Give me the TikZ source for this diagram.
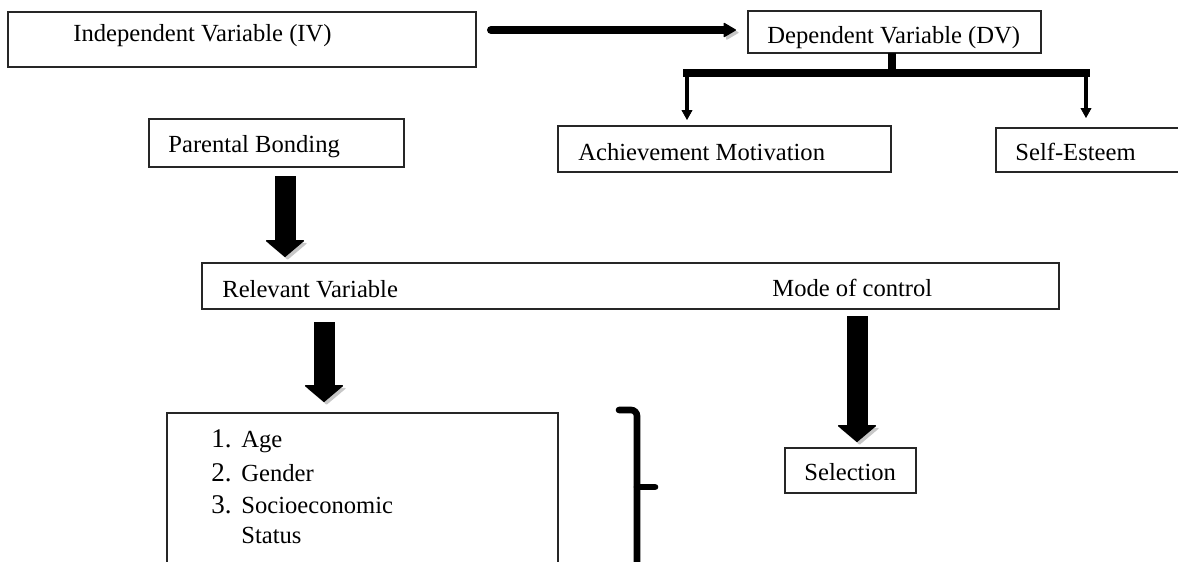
\documentclass[tikz,border=0pt]{standalone}
\usepackage{fontspec}
\setmainfont{Liberation Serif}
\usetikzlibrary{arrows.meta}
\begin{document}
\begin{tikzpicture}[x=0.5pt,y=-0.5pt,
  box/.style={draw=black!85, line width=0.6pt, anchor=north west, inner sep=0pt, outer sep=0pt},
  lbl/.style={anchor=base west, inner sep=0pt, font=\fontsize{12.3}{14}\selectfont},
  num/.style={anchor=base east, inner sep=0pt, font=\fontsize{13.5}{15}\selectfont},
  shadowed/.style={preaction={draw=black!22, transform canvas={shift={(1.3pt,-1.3pt)}}}},
  bigarrow/.style={line width=10.5pt, shadowed, -{Triangle[width=20pt,length=8.5pt,line width=0.6pt,round]}},
  medarrow/.style={line width=4pt, line cap=round, shadowed, -{Triangle[width=7.5pt,length=6.5pt,line width=0.6pt,round]}},
  thinarrow/.style={line width=1.8pt, -{Triangle[width=5.5pt,length=5pt,line width=0.4pt]}},
  stemline/.style={line width=4.2pt},
  barline/.style={line width=3.7pt, line cap=rect},
  bracketline/.style={line width=3.3pt, line cap=round, rounded corners=3pt}
]
\useasboundingbox (0,0) rectangle (1178,562);
\clip (0,0) rectangle (1178,562);

% boxes
\node[box, minimum width=234pt,   minimum height=27.5pt] (iv)  at (8,12)    {};
\node[box, minimum width=146.5pt, minimum height=21pt]   (dv)  at (748,11)  {};
\node[box, minimum width=127.5pt, minimum height=24pt]   (pb)  at (149,119) {};
\node[box, minimum width=166.5pt, minimum height=23pt]   (am)  at (558,126) {};
\node[box, minimum width=97pt,    minimum height=22pt]   (se)  at (996,128) {};
\node[box, minimum width=428.5pt, minimum height=23pt]   (rel) at (202,263) {};
\node[box, minimum width=65.5pt,  minimum height=22.5pt] (sel) at (785,448) {};
\node[box, minimum width=195.5pt, minimum height=83.5pt] (lst) at (167,413) {};

% texts
\node[lbl] (tiv)   at (73,41)   {Independent Variable (IV)};
\node[lbl] (tdv)   at (767,43)  {Dependent Variable (DV)};
\node[lbl] (tpb)   at (168,152) {Parental Bonding};
\node[lbl] (tam)   at (578,160) {Achievement Motivation};
\node[lbl] (tse)   at (1015,160) {Self-Esteem};
\node[lbl] (trel)  at (222,297) {Relevant Variable};
\node[lbl] (tmode) at (772,296) {Mode of control};
\node[lbl] (tsel)  at (804,480) {Selection};

\node[num] (n1) at (232,447) {1.};
\node[lbl] (i1) at (241,447) {Age};
\node[num] (n2) at (232,481) {2.};
\node[lbl] (i2) at (241,481) {Gender};
\node[num] (n3) at (232,513) {3.};
\node[lbl] (i3) at (241,513) {Socioeconomic};
\node[lbl] (i4) at (241,543) {Status};

% IV -> DV
\coordinate (ya) at (0,30);
\draw[medarrow, shorten <=7.5pt, shorten >=6pt] (iv.east |- ya) -- (dv.west |- ya);

% DV branches
\coordinate (stem) at (892,0);
\coordinate (jl) at (687,73);
\coordinate (jr) at (1086,73);
\draw[stemline] (stem |- dv.south) -- ([yshift=-1.5pt]stem |- jl);
\draw[barline] (jl) -- (jr);
\draw[thinarrow, shorten >=3pt] (jl) -- (jl |- am.north);
\draw[thinarrow, shorten >=5pt] (jr) -- (jr |- se.north);

% big arrows
\coordinate (xa) at (285,0);
\draw[bigarrow, shorten <=4.5pt, shorten >=3pt] (xa |- pb.south) -- (xa |- rel.north);
\coordinate (xb) at (324,0);
\draw[bigarrow, shorten <=6.5pt, shorten >=5.5pt] (xb |- rel.south) -- (xb |- lst.north);
\coordinate (xc) at (857,0);
\draw[bigarrow, shorten <=3.5pt, shorten >=3pt] (xc |- rel.south) -- (xc |- sel.north);

% bracket
\draw[bracketline] (619,410) -- (637,410) -- (637,575);
\draw[bracketline] (637,487) -- (655,487);
\end{tikzpicture}
\end{document}
